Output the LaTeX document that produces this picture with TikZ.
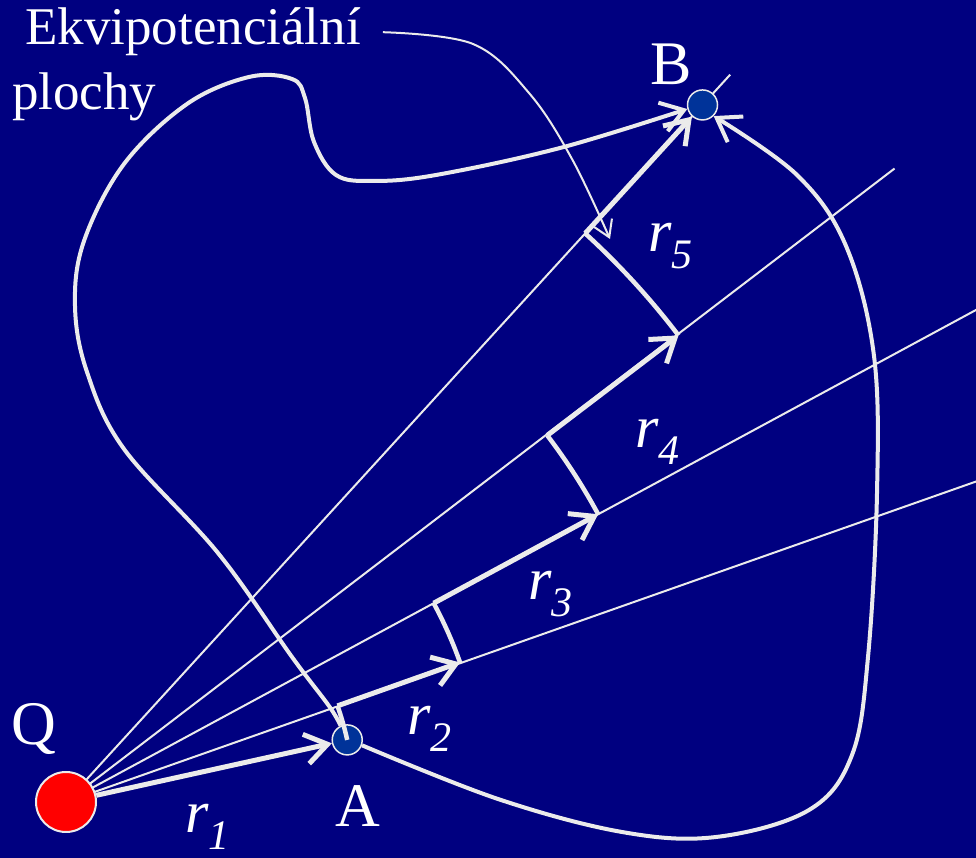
\documentclass[tikz,border=0pt]{standalone}
\usepackage{fontspec}
\setmainfont{Liberation Serif}
\usetikzlibrary{arrows.meta,calc}
\definecolor{slidebg}{HTML}{000080}
\definecolor{chalk}{HTML}{EBEBEB}
\definecolor{qred}{HTML}{FF0000}
\definecolor{ptblue}{HTML}{003399}
\newcommand{\rsub}[1]{\textit{r}\raisebox{-17pt}{\fontsize{42}{42}\selectfont\itshape #1}}

\begin{document}
\begin{tikzpicture}[x=1pt, y=1pt,
      lbl/.style={text=white, inner sep=0pt, anchor=base west, font=\fontsize{62}{62}\selectfont},
      rlbl/.style={lbl, font=\fontsize{60}{60}\selectfont},
      note/.style={lbl, font=\fontsize{53}{53}\selectfont},
      charge/.style={circle, draw=chalk, line width=2pt, fill=qred, minimum size=60pt, inner sep=0pt},
      pt/.style={circle, draw=chalk, line width=1.5pt, fill=ptblue, minimum size=30pt, inner sep=0pt},
      ray/.style={chalk, line width=2pt},
      vec/.style={chalk, line width=5pt, -{Straight Barb[length=22pt,width=30pt]}},
      eqarc/.style={chalk, line width=4.5pt},
      route/.style={chalk, line width=4pt, -{Straight Barb[length=22pt,width=30pt]}},
      ptr/.style={chalk, line width=2pt, -{Straight Barb[length=16pt,width=20pt]}}]
    \fill[slidebg] (0,0) rectangle (976,858);
    \useasboundingbox (0,0) rectangle (976,858);

    \coordinate (Qc) at (66,56);
    \coordinate (a2) at ($(Qc)+(19.5:288)$);
    \coordinate (b2) at ($(Qc)+(19.5:418)$);
    \coordinate (a3) at ($(Qc)+(28.4:418)$);
    \coordinate (b3) at ($(Qc)+(28.4:605)$);
    \coordinate (a4) at ($(Qc)+(37.3:605)$);
    \coordinate (b4) at ($(Qc)+(37.3:770)$);
    \coordinate (a5) at ($(Qc)+(47.6:770)$);
    \coordinate (t2) at ($(Qc)+(19.4:965)$);
    \coordinate (t3) at ($(Qc)+(28.4:1040)$);
    \coordinate (t4) at ($(Qc)+(37.4:1043)$);
    \coordinate (t5) at ($(Qc)+(47.6:985)$);

    % rays from the charge
    \draw[ray] (Qc) -- (t2);
    \draw[ray] (Qc) -- (t3);
    \draw[ray] (Qc) -- (t4);
    \draw[ray] (Qc) -- (t5);

    \node[charge] (Q) at (Qc) {};
    \node[pt] (A) at ($(Qc)+(12.45:288)$) {};
    \node[pt] (B) at ($(Qc)+(47.6:944)$) {};

    % step path r1 ... r5
    \draw[vec] (Q) -- (A);
    \draw[eqarc] (A.center) arc[start angle=12.45, end angle=19.5, radius=288];
    \draw[vec] (a2) -- (b2);
    \draw[eqarc] (b2) arc[start angle=19.5, end angle=28.4, radius=418];
    \draw[vec] (a3) -- (b3);
    \draw[eqarc] (b3) arc[start angle=28.4, end angle=37.3, radius=605];
    \draw[vec] (a4) -- (b4);
    \draw[eqarc] (b4) arc[start angle=37.3, end angle=47.6, radius=770];
    \draw[vec] (a5) -- (B);

    % two other paths from A to B
    \draw[route] plot[smooth, tension=0.6] coordinates {(A.115) (329,152) (292,201) (218,305)
      (124,409) (87,486) (75,552) (84,617) (124,694) (187,754) (249,781) (292,779) (305,760)
      (314,716) (336,683) (373,677) (436,683) (560,710) (B.195)};
    \draw[route] plot[smooth, tension=0.6] coordinates {(A.-20) (498,59) (622,26) (716,21)
      (809,48) (852,103) (868,201) (877,365) (874,502) (846,612) (797,683) (B.-45)};

    \node[note] (ekv) at (25,813) {Ekvipotenciální};
    \node[note] (plochy) at (12,748) {plochy};
    \coordinate (ptrstart) at ([xshift=22pt]ekv.east);
    \coordinate (ptrtip) at (610,619);
    \draw[ptr] plot[smooth, tension=0.6] coordinates {(ptrstart) (473,814) (529,765) (572,699) (ptrtip)};

    \node[lbl] (lblQ) at (11,113) {Q};
    \node[lbl] (lblA) at (335,31) {A};
    \node[lbl] (lblB) at (650,773) {B};
    \node[rlbl] (lr1) at (185,25) {\rsub{1}};
    \node[rlbl] (lr2) at (407,123) {\rsub{2}};
    \node[rlbl] (lr3) at (528,258) {\rsub{3}};
    \node[rlbl] (lr4) at (635,410) {\rsub{4}};
    \node[rlbl] (lr5) at (648,606) {\rsub{5}};
  \end{tikzpicture}
\end{document}
